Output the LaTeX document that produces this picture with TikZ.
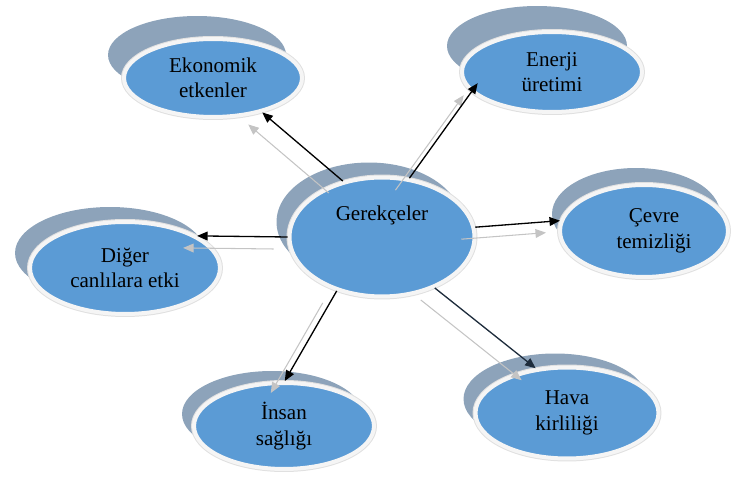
\documentclass[tikz,border=0pt]{standalone}
\usepackage{fontspec}
\setmainfont{Liberation Serif}
\usetikzlibrary{shapes.geometric,shadows,arrows.meta}

\definecolor{mavi}{RGB}{91,155,213}
\definecolor{arka}{RGB}{141,163,186}
\definecolor{kenar}{RGB}{245,245,245}
\definecolor{hale}{RGB}{224,224,224}
\definecolor{golge}{RGB}{196,196,196}
\definecolor{lacivert}{RGB}{30,44,60}

\newcommand{\yazi}{\fontsize{12}{14.5}\selectfont}

\begin{document}
\begin{tikzpicture}[x=0.02cm, y=-0.02cm, line join=round,
		balon/.style 2 args={ellipse, fill=mavi, draw=kenar, line width=0.08cm, inner sep=0pt,
			general shadow={fill=arka, shadow xshift=#1, shadow yshift=#2},
			preaction={draw=hale, line width=0.12cm},
			align=center, font=\yazi},
		ok/.style={-{Triangle[length=6pt,width=5pt]}, line width=0.75pt,
			preaction={draw=golge, -{Triangle[length=6pt,width=5pt]}, line width=0.6pt,
				transform canvas={shift={(-0.28cm,-0.24cm)}}}}]
	\useasboundingbox (0,0) rectangle (735,482);
	
	% ====== MERKEZ: GEREKÇELER ======
	\node[balon={-0.26cm}{0.30cm}, minimum width=3.7cm, minimum height=2.38cm] (ger) at (382,237) {};
	\node[font=\yazi] (gerbaslik) at ([yshift=0.44cm]ger.center) {Gerekçeler};
	
	% ====== ÇEVREDEKİ BALONLAR ======
	\node[balon={-0.32cm}{0.46cm}, minimum width=3.56cm, minimum height=1.56cm] (eko) at (213,78) {Ekonomik\\etkenler};
	\node[balon={-0.30cm}{0.52cm}, minimum width=3.6cm, minimum height=1.6cm] (ene) at (552,72) {Enerji\\üretimi};
	\node[balon={-0.30cm}{0.30cm}, minimum width=3.8cm, minimum height=1.84cm] (dig) at (125,268) {Diğer\\canlılara etki};
	\node[balon={-0.16cm}{0.34cm}, minimum width=3.36cm, minimum height=1.84cm] (cev) at (644,231) {\hspace*{0.4cm}Çevre\\\hspace*{0.4cm}temizliği};
	\node[balon={-0.24cm}{0.28cm}, minimum width=3.66cm, minimum height=1.82cm] (hav) at (567,413) {Hava\\kirliliği};
	\node[balon={-0.24cm}{0.24cm}, minimum width=3.6cm, minimum height=1.72cm] (ins) at (284,426) {İnsan\\sağlığı};
	
	% ====== OKLAR ======
	\draw[ok] (ger.125) -- (eko.-35);
	\draw[ok, shorten >=-0.22cm] (ger.65) -- (ene.194);
	\draw[ok] (ger.180) -- (dig.24);
	\draw[ok] (ger.6) -- (cev.173);
	\draw[ok, draw=lacivert] (ger.-44) -- (hav.125);
	\draw[ok] (ger.230) -- (ins.89);
\end{tikzpicture}
\end{document}
